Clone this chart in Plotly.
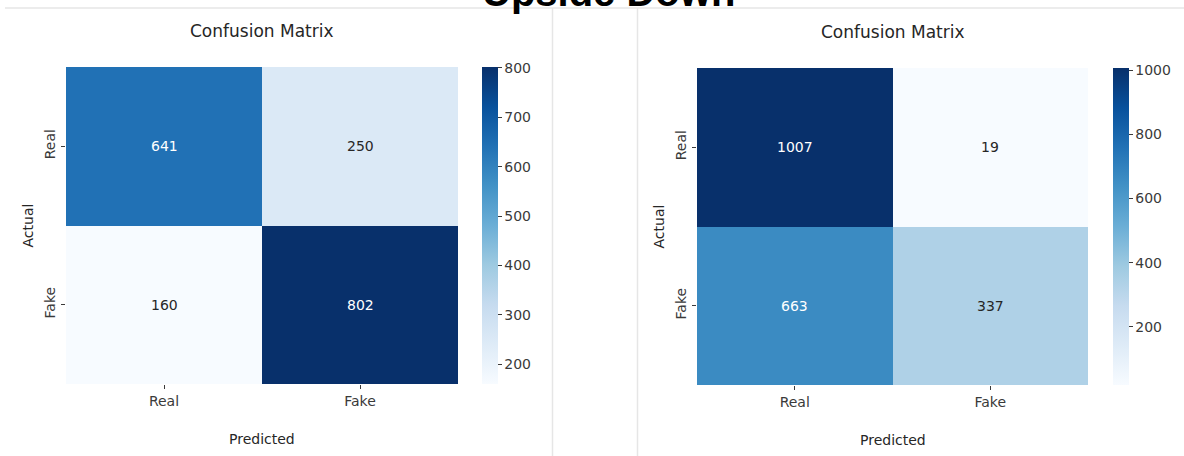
import plotly.graph_objects as go

W, H = 1184, 456

labels = ["Real", "Fake"]

# confusion matrices: rows = actual, columns = predicted
cm_left = [[641, 250],
           [160, 802]]
cm_right = [[1007, 19],
            [663, 337]]

cbar_ticks_left = [200, 300, 400, 500, 600, 700, 800]
cbar_ticks_right = [200, 400, 600, 800, 1000]

suptitle = "Upside Down"
panel_title = "Confusion Matrix"
x_title = "Predicted"
y_title = "Actual"

FONT = "DejaVu Sans"
DARK = "#262626"
TICK = "#3a3a3a"


def px(x):
    return x / W


def py(y):
    return 1 - y / H


# pixel boxes of the two heatmaps and their colorbars
panels = [
    dict(z=cm_left, ticks=cbar_ticks_left, x0=66, x1=458, y0=67, y1=384, cb=482, ax=""),
    dict(z=cm_right, ticks=cbar_ticks_right, x0=697, x1=1088, y0=68, y1=385, cb=1113, ax="2"),
]

fig = go.Figure()
annotations = []

for p in panels:
    z = p["z"]
    zmin = min(min(r) for r in z)
    zmax = max(max(r) for r in z)
    fig.add_trace(go.Heatmap(
        z=z, x=labels, y=labels,
        colorscale="Blues", zmin=zmin, zmax=zmax,
        xaxis="x" + p["ax"], yaxis="y" + p["ax"],
        hoverinfo="skip",
        colorbar=dict(
            x=px(p["cb"]), xanchor="left", xref="paper",
            y=py((p["y0"] + p["y1"]) / 2), yanchor="middle",
            len=(p["y1"] - p["y0"]) / H, lenmode="fraction",
            thickness=16, thicknessmode="pixels",
            outlinewidth=0,
            tickvals=p["ticks"], ticks="outside", ticklen=4,
            tickcolor=TICK, tickwidth=1,
            tickfont=dict(family=FONT, size=14, color=TICK),
            xpad=0, ypad=0,
        ),
    ))
    # cell value labels
    for i, row in enumerate(z):
        for j, v in enumerate(row):
            frac = (v - zmin) / (zmax - zmin)
            annotations.append(dict(
                x=labels[j], y=labels[i], xref="x" + p["ax"], yref="y" + p["ax"],
                text=str(v), showarrow=False,
                font=dict(family=FONT, size=14, color="#ffffff" if frac > 0.5 else DARK),
            ))
    cx = (p["x0"] + p["x1"]) / 2
    cy = (p["y0"] + p["y1"]) / 2
    annotations.append(dict(
        x=px(cx), y=py(p["y0"] - 36), xref="paper", yref="paper",
        text=panel_title, showarrow=False, xanchor="center", yanchor="middle",
        font=dict(family=FONT, size=17, color=DARK),
    ))
    annotations.append(dict(
        x=px(cx), y=py(p["y1"] + 55), xref="paper", yref="paper",
        text=x_title, showarrow=False, xanchor="center", yanchor="middle",
        font=dict(family=FONT, size=14, color=DARK),
    ))
    annotations.append(dict(
        x=px(p["x0"] - 39), y=py(cy), xref="paper", yref="paper",
        text=y_title, showarrow=False, xanchor="center", yanchor="middle",
        textangle=-90,
        font=dict(family=FONT, size=14, color=DARK),
    ))

annotations.append(dict(
    x=px(608), y=py(-8), xref="paper", yref="paper",
    text="<b>" + suptitle + "</b>", showarrow=False,
    xanchor="center", yanchor="middle",
    font=dict(family="Liberation Sans", size=40, color="#000000"),
))

axis_common = dict(
    showgrid=False, zeroline=False, showline=False,
    ticks="outside", ticklen=4, tickcolor=TICK, tickwidth=1,
    tickfont=dict(family=FONT, size=14, color=TICK),
)

layout = dict(
    width=W, height=H,
    margin=dict(l=0, r=0, t=0, b=0),
    paper_bgcolor="white", plot_bgcolor="white",
    showlegend=False,
    annotations=annotations,
    shapes=[
        dict(type="line", xref="paper", yref="paper", x0=px(5), x1=1, y0=py(8), y1=py(8),
             line=dict(color="#e6e6e6", width=1.5), layer="below"),
        dict(type="line", xref="paper", yref="paper", x0=px(552.5), x1=px(552.5), y0=py(8), y1=0,
             line=dict(color="#e6e6e6", width=1.5), layer="below"),
        dict(type="line", xref="paper", yref="paper", x0=px(637.5), x1=px(637.5), y0=py(8), y1=0,
             line=dict(color="#e6e6e6", width=1.5), layer="below"),
    ],
)

for p in panels:
    layout["xaxis" + p["ax"]] = dict(
        domain=[px(p["x0"]), px(p["x1"])], anchor="y" + p["ax"], **axis_common,
    )
    layout["yaxis" + p["ax"]] = dict(
        domain=[py(p["y1"]), py(p["y0"])], anchor="x" + p["ax"],
        autorange="reversed", tickangle=-90, **axis_common,
    )

fig.update_layout(**layout)
fig.write_html("out.html")
